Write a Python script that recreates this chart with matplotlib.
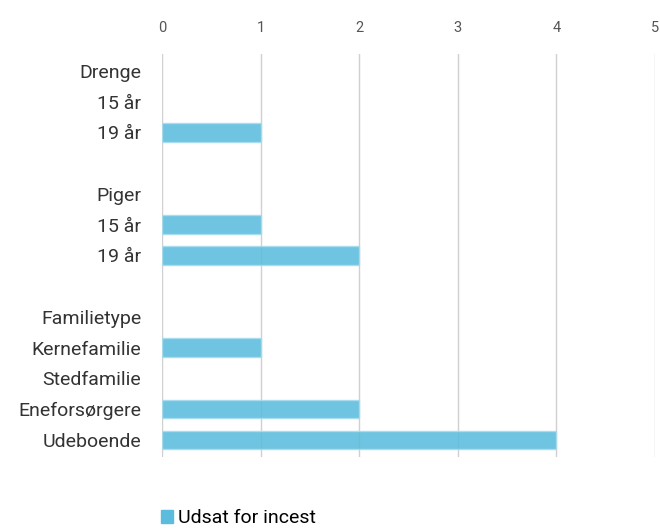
import matplotlib
matplotlib.use('Agg')

import matplotlib.pyplot as plt
from matplotlib.patches import Patch

labels = ['Drenge', '15 år', '19 år', '', 'Piger', '15 år', '19 år', '',
          'Familietype', 'Kernefamilie', 'Stedfamilie', 'Eneforsørgere', 'Udeboende']
values = [0, 0, 1, 0, 0, 1, 2, 0, 0, 1, 0, 2, 4]
ticks = [0, 1, 2, 3, 4, 5]
series_name = 'Udsat for incest'
bar_color = '#5bbcdd'

plt.rcParams['font.family'] = ['Roboto', 'DejaVu Sans']

fig = plt.figure(figsize=(6.6, 5.3), dpi=100)
ax = fig.add_axes([0.2455, 0.138, 0.747, 0.76])

y = list(range(len(labels)))
edge_w = [1 if v > 0 else 0 for v in values]
ax.barh(y, values, height=0.6, color=bar_color, alpha=0.88,
        edgecolor='#a8dcee', linewidth=edge_w, zorder=3)

ax.set_xlim(0, 5)
ax.set_ylim(len(labels) - 0.45, -0.55)
ax.set_xticks(ticks)
ax.xaxis.tick_top()
ax.tick_params(axis='x', length=0, pad=14, labelsize=10.5, labelcolor='#555555')
ax.set_yticks(y)
ax.set_yticklabels(labels)
ax.tick_params(axis='y', length=0, pad=15, labelsize=14, labelcolor='#333333')
ax.grid(axis='x', color='#d0d0d0', linewidth=1, zorder=1)
for s in ax.spines.values():
    s.set_visible(False)

fig.legend(handles=[Patch(color=bar_color, label=series_name)],
           loc='lower left', bbox_to_anchor=(0.218, -0.028), frameon=False,
           handlelength=0.6, handleheight=0.6, handletextpad=0.25, fontsize=14)

fig.savefig('out.png', dpi=100)
